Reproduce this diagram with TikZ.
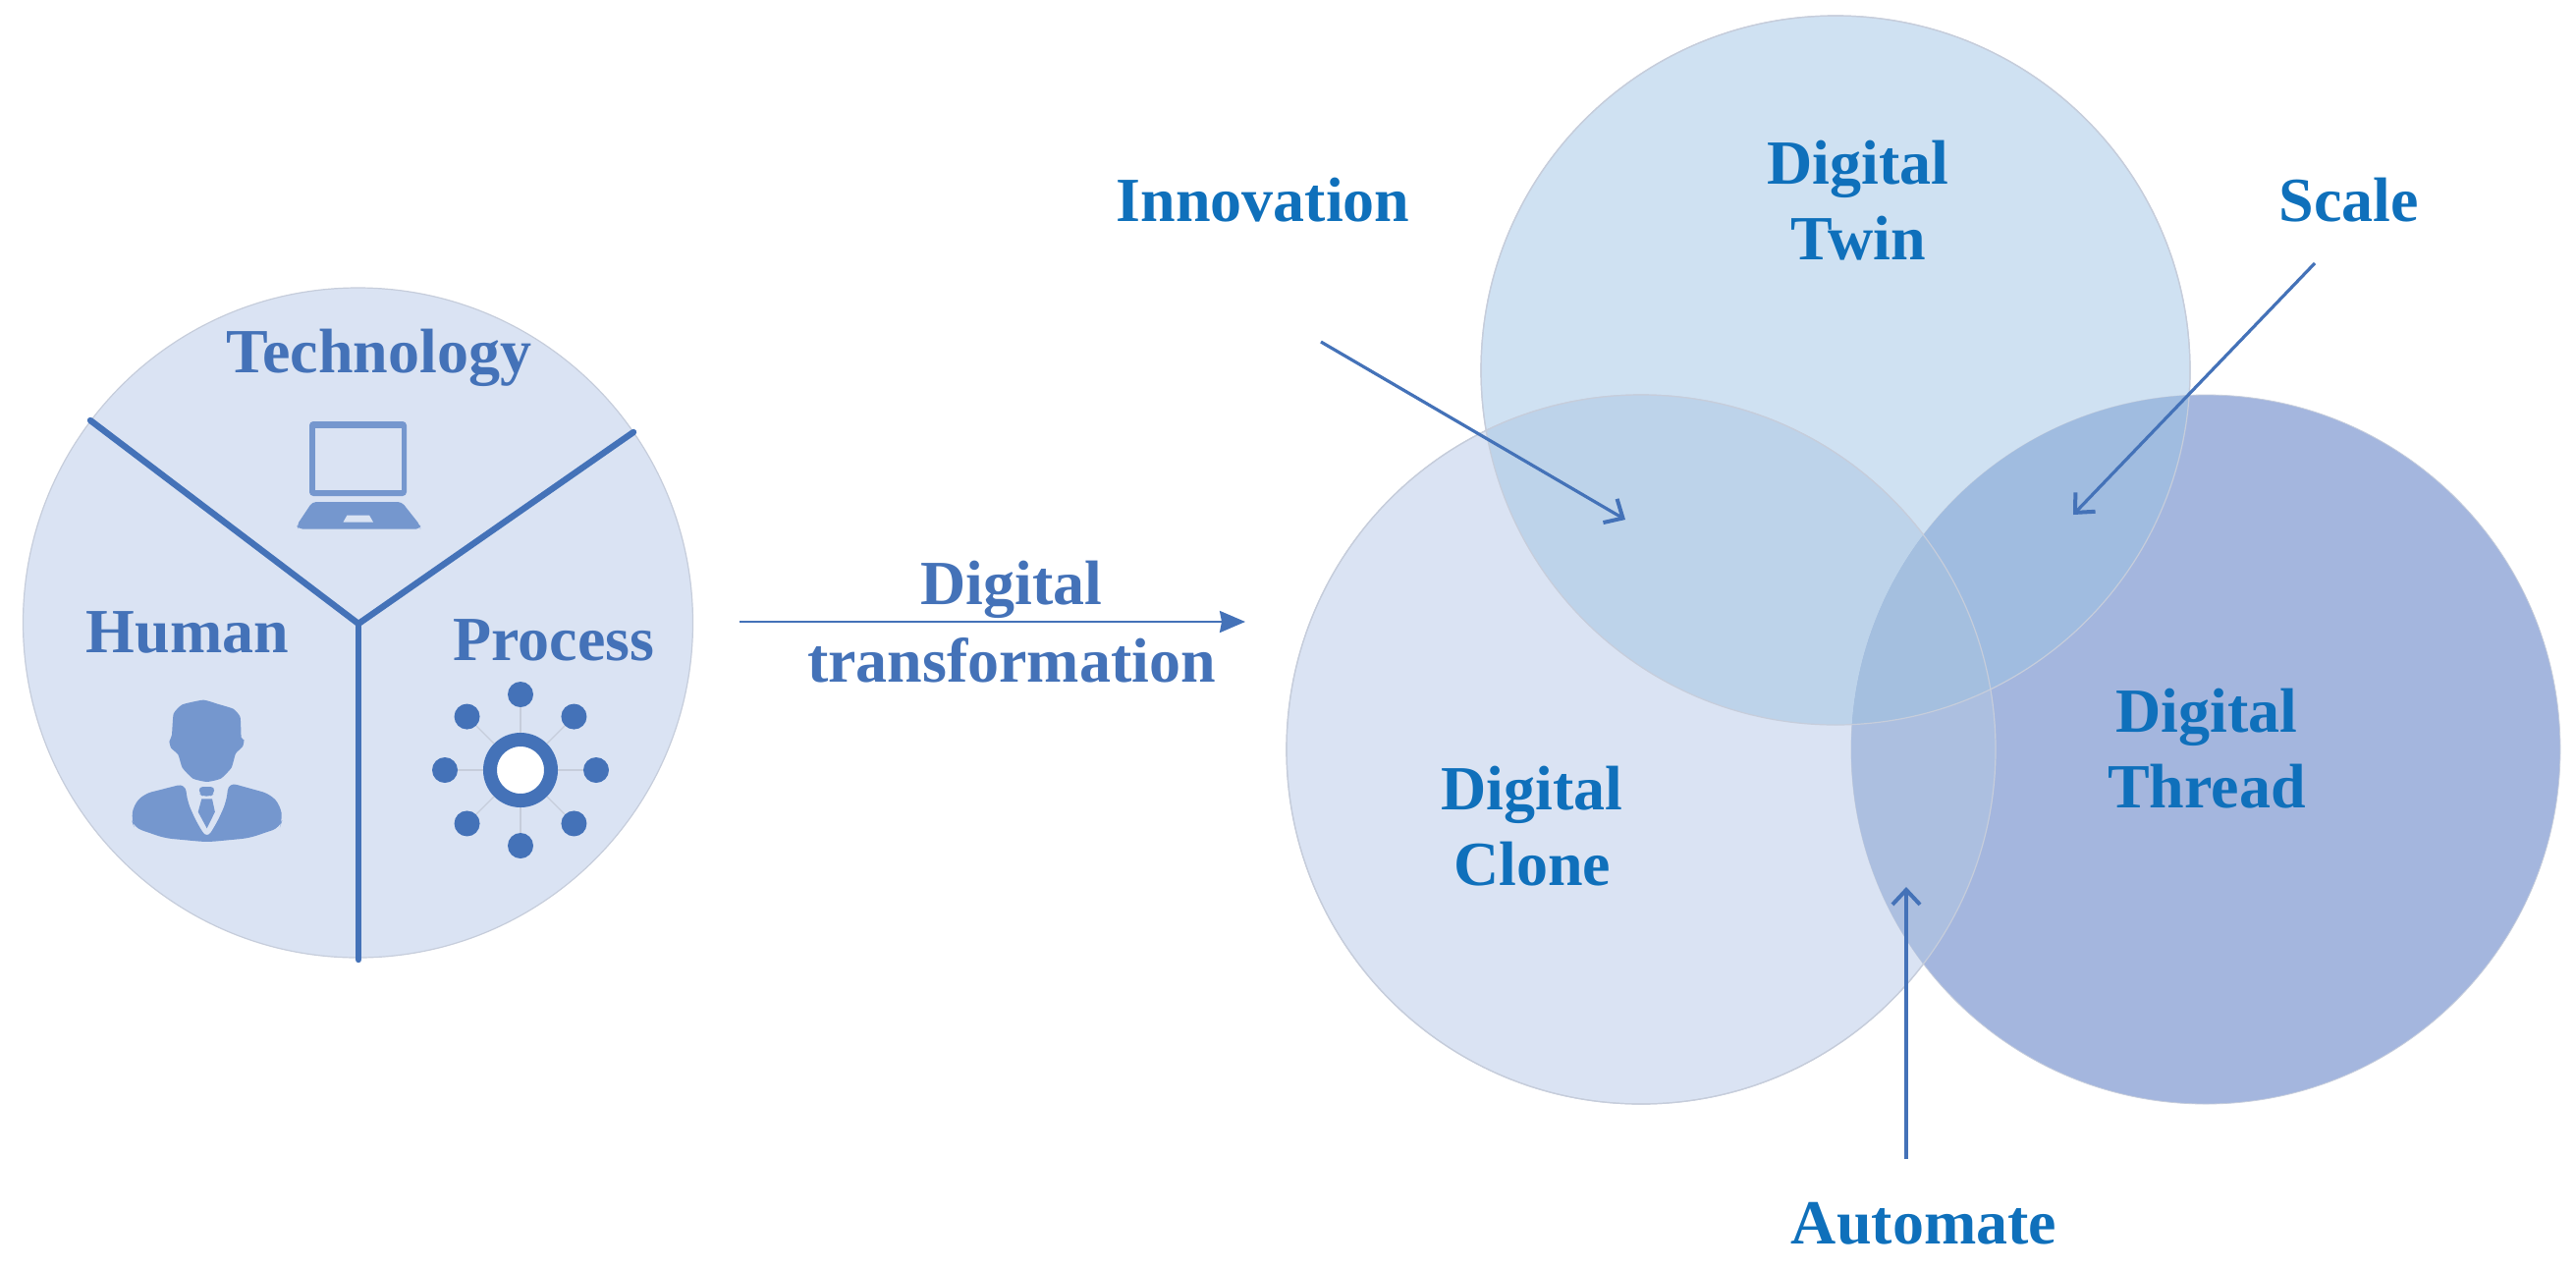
\documentclass[tikz,border=0pt]{standalone}
\usepackage{fontspec}
\setmainfont{Liberation Serif}
\newfontfamily\labfont{Liberation Serif}
\usetikzlibrary{arrows.meta,calc}
\definecolor{ctwin}{HTML}{CFE1F2}
\definecolor{cclone}{HTML}{DAE3F3}
\definecolor{cthread}{HTML}{A4B6DE}
\definecolor{ctc}{HTML}{BDD3EA}
\definecolor{cct}{HTML}{ACBFE0}
\definecolor{ctt}{HTML}{A0BCE0}
\definecolor{cttt}{HTML}{A4BFDF}
\definecolor{edge}{HTML}{C6CDDB}
\definecolor{blueline}{HTML}{4472B8}
\definecolor{bluetext}{HTML}{0F70BB}
\definecolor{icon}{HTML}{7597CE}
\tikzset{
  venn/.style={circle,inner sep=0pt,minimum size=361pt,draw=edge,line width=.6pt},
  labA/.style={text=blueline,font=\labfont\bfseries\fontsize{32}{38.5}\selectfont,align=center,inner sep=0pt},
  labB/.style={text=bluetext,font=\labfont\bfseries\fontsize{32}{38.5}\selectfont,align=center,inner sep=0pt},
  divider/.style={draw=blueline,line width=3.2pt,line cap=round},
  openarrow/.style={draw=blueline,line width=1.6pt,-{Straight Barb[length=7.5pt,width=14pt,line width=2pt]}},
  mainarrow/.style={draw=blueline,line width=1.3pt,-{Stealth[length=13pt,width=11pt,inset=1pt]}},
  spoke/.style={draw=edge,line width=.6pt},
  pdot/.style={circle,fill=blueline,inner sep=0pt,minimum size=13pt}
}
\begin{document}
\begin{tikzpicture}[x=.5pt,y=-.5pt]
\useasboundingbox (0,0) rectangle (2623,1292);
% left disc
\node[circle,inner sep=0pt,minimum size=341pt,fill=cclone,draw=edge,line width=.6pt] (disc) at (364.5,634) {};
\coordinate (hub) at (365,635);
\coordinate (endL) at (92,428);
\coordinate (endR) at (645,440);
\coordinate (endB) at (365,977);
\draw[divider] (endL) -- (hub) -- (endR);
\draw[divider] (hub) -- (endB);
% laptop
\fill[icon,rounded corners=2pt] (315,429) rectangle (414,505);
\fill[cclone] (320.7,435.7) rectangle (409,498.7);
\fill[icon,rounded corners=2pt] (318,511) -- (409,511) -- (428,535) -- (428,538.5) -- (304,538.5) -- (302,535) -- cycle;
\fill[cclone] (353.5,524.5) -- (376,524.5) -- (380,531.5) -- (349.5,531.5) -- cycle;
% person
\begin{scope}[shift={(100,680)},xscale=.357,yscale=.3333]
\fill[icon] plot[smooth cycle,tension=.3] coordinates {(300,98) (240,112) (215,140) (210,205) (203,225) (208,245) (228,265) (240,305) (270,338) (310,348) (350,338) (380,305) (392,262) (412,240) (416,220) (408,212) (405,150) (385,125) (340,110)};
\fill[icon,rounded corners=4pt] (248,353) -- (130,385) -- (100,420) -- (95,465) -- (103,488) -- (190,520) -- (310,532) -- (430,520) -- (518,488) -- (525,465) -- (520,420) -- (490,385) -- (372,350) -- (365,410) -- (340,470) -- (310,522) -- (280,470) -- (255,410) -- cycle;
\fill[icon,rounded corners=2pt] (287,363) -- (332,363) -- (330,385) -- (320,392) -- (298,392) -- (289,385) -- cycle;
\fill[icon] (295,400) -- (325,400) -- (333,440) -- (310,490) -- (285,440) -- cycle;
\end{scope}
% process icon
\coordinate (pc) at (530,784);
\foreach \a in {0,45,...,315}{
  \node[pdot] (p\a) at ($(pc)+(\a:77)$) {};
  \draw[spoke] (pc) -- (p\a);
}
\node[circle,draw=blueline,line width=7pt,fill=white,inner sep=0pt,minimum size=31pt] (ring) at (pc) {};
% labels left
\node[labA,anchor=base] (tech) at (386,379) {Technology};
\node[labA,anchor=base] (human) at (191,664) {Human};
\node[labA,anchor=base] (proc) at (564,672) {Process};
% venn
\node[venn,fill=ctwin] (twin) at (1869,377) {};
\node[venn,fill=cclone] (clone) at (1671,763) {};
\node[venn,fill=cthread,line width=.4pt] (thread) at (2246,763) {};
\begin{scope}
  \clip (1869,377) circle (361);
  \fill[ctc] (1671,763) circle (361);
\end{scope}
\begin{scope}
  \clip (2246,763) circle (361);
  \fill[cct] (1671,763) circle (361);
\end{scope}
\begin{scope}
  \clip (2246,763) circle (361);
  \fill[ctt] (1869,377) circle (361);
\end{scope}
\begin{scope}
  \clip (2246,763) circle (361);
  \clip (1869,377) circle (361);
  \fill[cttt] (1671,763) circle (361);
\end{scope}
\draw[edge,line width=.6pt] (1869,377) circle (361) (1671,763) circle (361);
% arrows
\coordinate (dtA) at (753,633);
\coordinate (dtB) at (1268,633);
\draw[mainarrow] (dtA) -- (dtB);
\coordinate (inA) at (1345,348);
\coordinate (inB) at (1655,529);
\draw[openarrow] (inA) -- (inB);
\coordinate (scA) at (2357,268);
\coordinate (scB) at (2111,524);
\draw[openarrow] (scA) -- (scB);
\coordinate (auA) at (1941,1180);
\coordinate (auB) at (1941,903);
\draw[openarrow] (auA) -- (auB);
% labels right
\node[labA] (dt) at (1030,633) {Digital\\[1pt]transformation};
\node[labB] (inno) at (1286,204) {Innovation};
\node[labB] (scale) at (2392,204) {Scale};
\node[labB] (ltwin) at (1892,204) {Digital\\Twin};
\node[labB] (lclone) at (1560,841) {Digital\\Clone};
\node[labB] (lthread) at (2247,762) {Digital\\Thread};
\node[labB] (auto) at (1959,1246) {Automate};
\end{tikzpicture}
\end{document}
